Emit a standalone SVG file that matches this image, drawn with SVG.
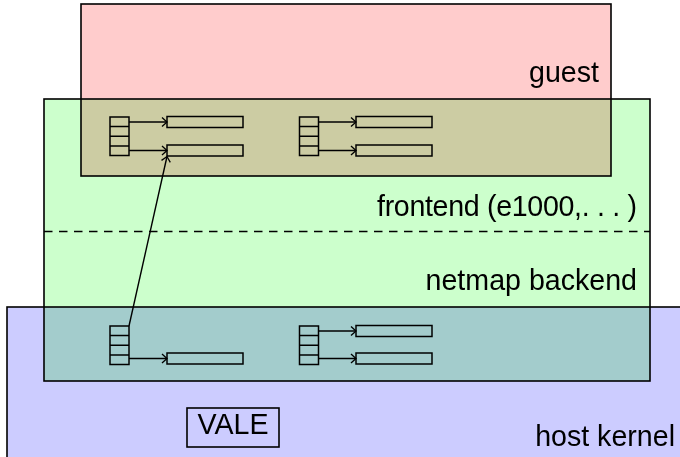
<svg xmlns="http://www.w3.org/2000/svg" width="680" height="457" viewBox="0 0 680 457">
<style>
  .box { stroke: #000; stroke-width: 1.6; }
  .mul { mix-blend-mode: multiply; }
  .lbl { font-family: "Liberation Sans", Arial, sans-serif; font-size: 28.6px; fill: #000; }
  .ring { fill: none; stroke: #000; stroke-width: 1.5; }
  .arr { fill: none; stroke: #000; stroke-width: 1.4; marker-end: url(#tip); }
</style>
<defs>
  <marker id="tip" markerUnits="userSpaceOnUse" viewBox="-7 -6 9 12" refX="0" refY="0" markerWidth="9" markerHeight="12" orient="auto" overflow="visible">
    <path d="M-5,-4.5 Q-1.3,-1.1 0,0 Q-1.3,1.1 -5,4.5" fill="none" stroke="#000" stroke-width="1.3"/>
  </marker>
  <g id="stack">
    <rect class="ring" x="0" y="0" width="19" height="38.5"/>
    <path class="ring" d="M0,9.6H19M0,19.25H19M0,28.9H19"/>
  </g>
</defs>

<g id="vm-ports">
  <rect class="box" x="44" y="99" width="606" height="282" fill="#CCFFCC"/>
  <line x1="44" y1="231.5" x2="650" y2="231.5" stroke="#000" stroke-width="1.6" stroke-dasharray="8.5 6.5"/>
  <text class="lbl" x="637" y="216" text-anchor="end" textLength="260" lengthAdjust="spacing">frontend (e1000,. . . )</text>
  <text class="lbl" x="637" y="290" text-anchor="end">netmap backend</text>
</g>

<g id="guest">
  <rect class="box mul" x="81" y="4" width="530" height="172" fill="#FFCCCC"/>
  <text class="lbl" x="599" y="82" text-anchor="end">guest</text>
</g>

<g id="host-kernel">
  <rect class="box mul" x="7" y="307" width="680" height="160" fill="#CCCCFF"/>
  <text class="lbl" x="675" y="446" text-anchor="end">host kernel</text>
</g>

<g id="vale">
  <rect x="187" y="408" width="92" height="39" fill="none" stroke="#000" stroke-width="1.6"/>
  <text class="lbl" x="233" y="434" text-anchor="middle">VALE</text>
</g>

<g id="guest-ring-1">
  <use href="#stack" x="110" y="117"/>
  <rect class="ring" x="167" y="116.5" width="76" height="11"/>
  <rect class="ring" x="167" y="145" width="76" height="11"/>
</g>
<g id="guest-ring-2">
  <use href="#stack" x="299.5" y="117"/>
  <rect class="ring" x="356" y="116.5" width="76" height="11"/>
  <rect class="ring" x="356" y="145" width="76" height="11"/>
</g>
<g id="host-ring-1">
  <use href="#stack" x="110" y="326"/>
  <rect class="ring" x="167" y="353" width="76" height="11"/>
</g>
<g id="host-ring-2">
  <use href="#stack" x="299.5" y="326"/>
  <rect class="ring" x="356" y="325.5" width="76" height="11"/>
  <rect class="ring" x="356" y="353" width="76" height="11"/>
</g>

<g id="connectors">
  <line class="arr" x1="129" y1="122" x2="167" y2="122"/>
  <line class="arr" x1="129" y1="150.5" x2="167" y2="150.5"/>
  <line class="arr" x1="318.5" y1="122" x2="356" y2="122"/>
  <line class="arr" x1="318.5" y1="150.5" x2="356" y2="150.5"/>
  <line class="arr" x1="129" y1="358.5" x2="167" y2="358.5"/>
  <line class="arr" x1="318.5" y1="331" x2="356" y2="331"/>
  <line class="arr" x1="318.5" y1="358.5" x2="356" y2="358.5"/>
  <line class="arr" x1="129" y1="326" x2="167" y2="156.5"/>
</g>
</svg>
